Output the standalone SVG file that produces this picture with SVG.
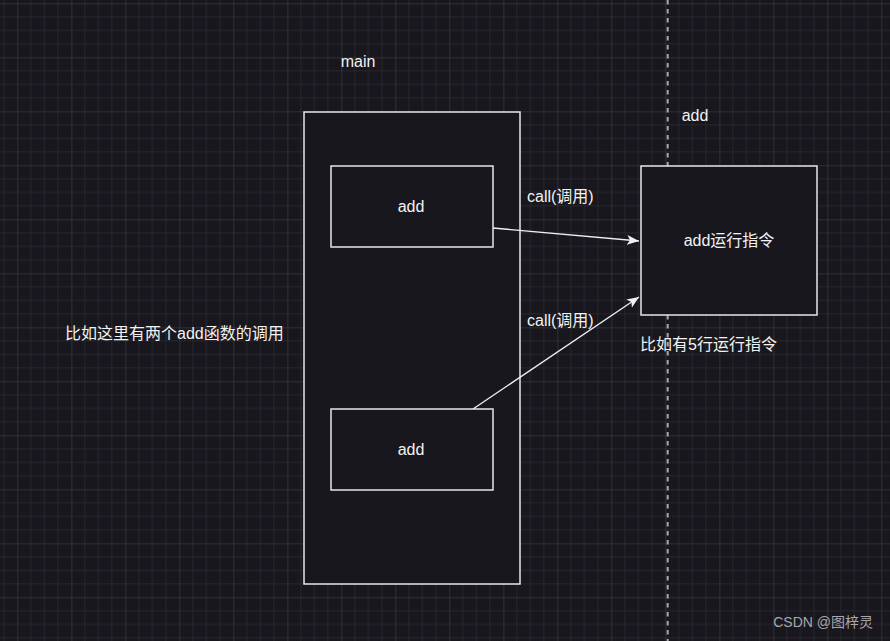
<svg xmlns="http://www.w3.org/2000/svg" width="890" height="641" viewBox="0 0 890 641">
<defs>
<pattern id="grid" patternUnits="userSpaceOnUse" x="17.33" y="3.33" width="54" height="54">
<path d="M13.5 0V54M27 0V54M40.5 0V54M0 13.5H54M0 27H54M0 40.5H54" stroke="#27262d" stroke-width="1" fill="none"/>
<path d="M0 0V54M0 0H54" stroke="#46454c" stroke-width="1" fill="none"/>
</pattern>
<marker id="arr" markerWidth="14" markerHeight="12" refX="12" refY="6" orient="auto" markerUnits="userSpaceOnUse">
<path d="M0 1 L12 6 L0 11 L3 6 Z" fill="#f0f0f0"/>
</marker>
</defs>
<style>
.box{fill:#18171e;stroke:#e6e6e6;stroke-width:1.5}
.t{font-family:"Liberation Sans","Noto Sans CJK SC",sans-serif;font-size:16px;fill:#f2f2f2}
.c{text-anchor:middle}
.edge{stroke:#f0f0f0;stroke-width:1.3;fill:none}
</style>
<rect width="890" height="641" fill="#18171e"/>
<rect width="890" height="641" fill="url(#grid)"/>
<line x1="667.7" y1="0" x2="667.7" y2="641" stroke="#a8a8a8" stroke-width="2" stroke-dasharray="4.5 4.5"/>
<g id="main-label"><text class="t c" x="358" y="67">main</text></g>
<g id="add-label"><text class="t c" x="695" y="121">add</text></g>
<g id="main"><rect class="box" x="304" y="112" width="216" height="472"/></g>
<g id="add1"><rect class="box" x="331" y="166" width="162" height="81"/><text class="t c" x="411" y="212">add</text></g>
<g id="add2"><rect class="box" x="331" y="409" width="162" height="81"/><text class="t c" x="411" y="455">add</text></g>
<g id="addfunc"><rect class="box" x="641" y="166" width="176" height="149"/><text class="t c" x="729" y="246">add运行指令</text></g>
<g id="connectors">
<line class="edge" x1="493" y1="228" x2="639" y2="241" marker-end="url(#arr)"/>
<line class="edge" x1="473" y1="409" x2="639" y2="297" marker-end="url(#arr)"/>
</g>
<g id="labels">
<text class="t" x="527" y="202">call(调用)</text>
<text class="t" x="527" y="326">call(调用)</text>
<text class="t" x="640" y="350">比如有5行运行指令</text>
<text class="t" x="65" y="339">比如这里有两个add函数的调用</text>
</g>
<text x="873" y="627" text-anchor="end" font-family="Liberation Sans,Noto Sans CJK SC,sans-serif" font-size="14" fill="#a8a8ac">CSDN @图梓灵</text>
</svg>
